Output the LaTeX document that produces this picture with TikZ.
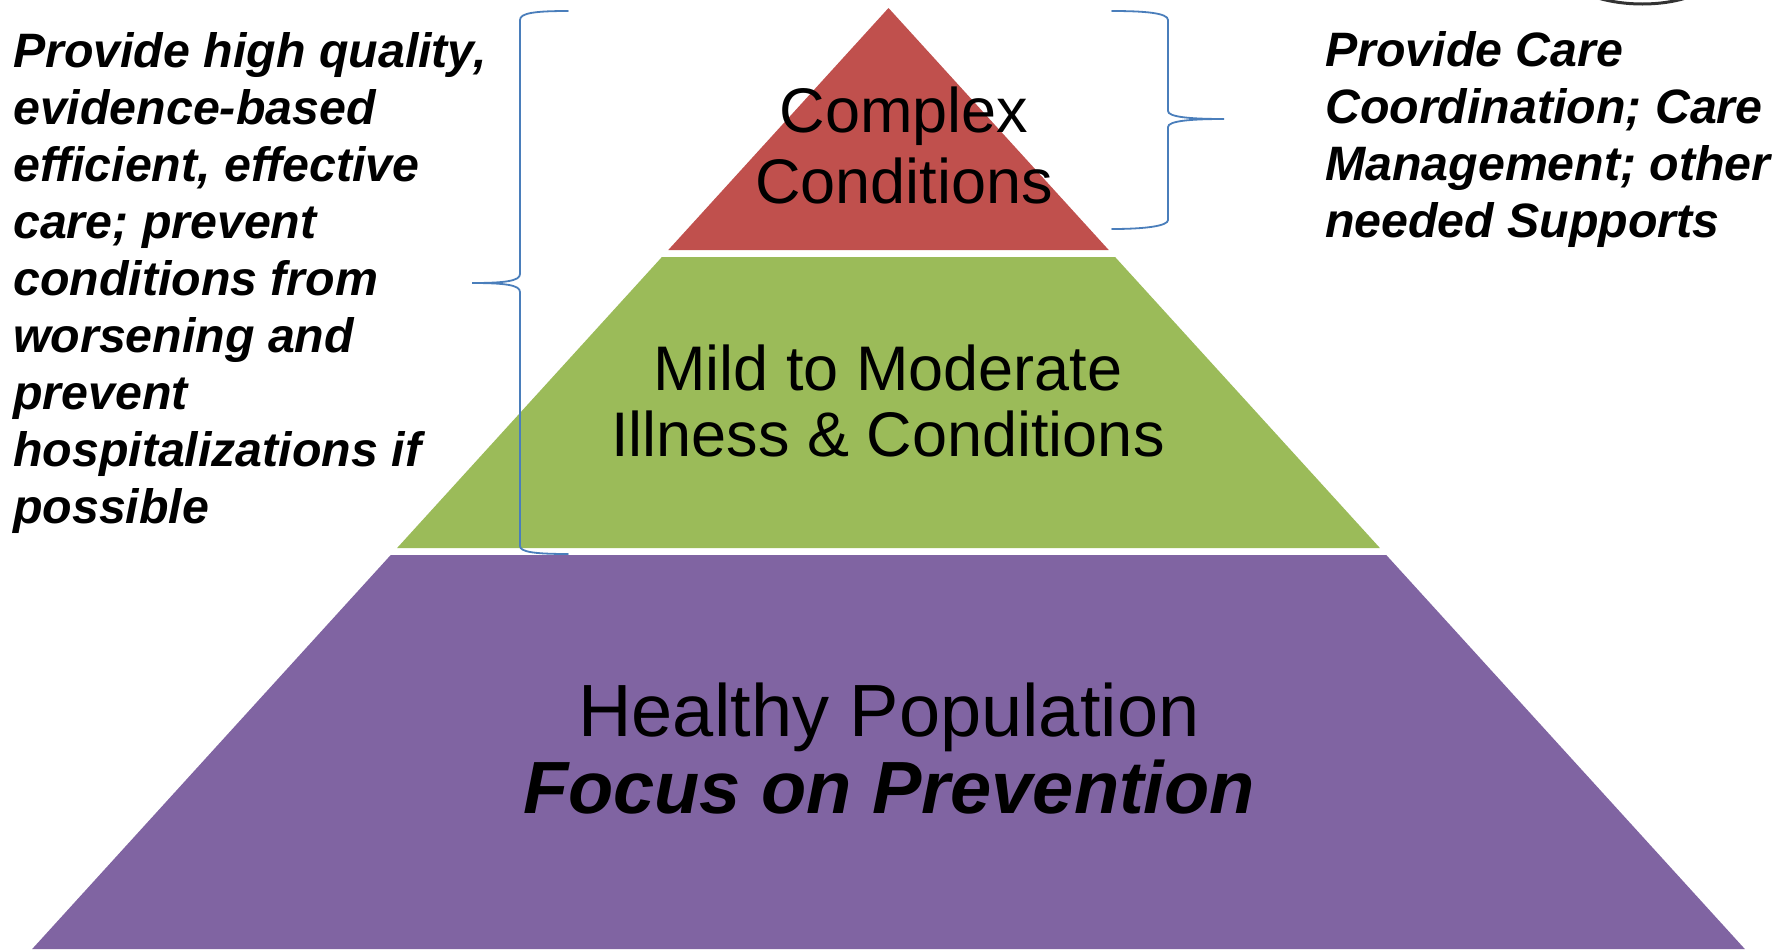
\documentclass[tikz,border=0pt]{standalone}
\usepackage{fontspec}
\setmainfont{Liberation Sans}
\definecolor{redc}{RGB}{192,80,77}
\definecolor{greenc}{RGB}{155,187,89}
\definecolor{purplec}{RGB}{128,100,162}
\definecolor{bracec}{RGB}{74,126,187}
\begin{document}
\begin{tikzpicture}[x=1pt,y=-1pt,
  brace/.style={draw=bracec, line width=1.8pt, line cap=round},
  side/.style={font=\fontsize{48.3}{57}\selectfont\bfseries\itshape, anchor=base west, align=left, inner sep=0pt},
  tier/.style={align=center, inner sep=0pt, anchor=base}]
\useasboundingbox (0,0) rectangle (1789,951);
\fill[white] (0,0) rectangle (1789,951);
% pyramid tiers
\fill[redc] (888.5,8) -- ({888.5+0.91*242},250) -- ({888.5-0.91*242},250) -- cycle;
\fill[greenc] ({888.5-0.91*249},257) -- ({888.5+0.91*249},257) -- ({888.5+0.91*540},548) -- ({888.5-0.91*540},548) -- cycle;
\fill[purplec] ({888.5-0.91*547},555) -- ({888.5+0.91*547},555) -- ({888.5+0.91*941},949) -- ({888.5-0.91*941},949) -- cycle;
% tier labels (anchor = baseline of the last line)
\node[tier, font=\fontsize{63}{71}\selectfont] (cc) at (904,203) {Complex\\Conditions};
\node[tier, font=\fontsize{63}{66}\selectfont] (mm) at (888,456) {Mild to Moderate\\Illness \& Conditions};
\node[tier, font=\fontsize{74}{77}\selectfont] (hp) at (889,813) {Healthy Population\\{\bfseries\itshape Focus on Prevention}};
% side texts
\node[side] (lt) at (13,523) {Provide high quality,\\evidence-based\\efficient, effective\\care; prevent\\conditions from\\worsening and\\prevent\\hospitalizations if\\possible};
\node[side, font=\fontsize{48.3}{56.7}\selectfont\bfseries\itshape] (rt) at (1325,237) {Provide Care\\Coordination; Care\\Management; other\\needed Supports};
% braces
\draw[brace] (568,11) .. controls (535,11) and (520,13) .. (520,20) -- (520,274)
  .. controls (520,281) and (505,283) .. (472,283)
  .. controls (505,283) and (520,285) .. (520,292) -- (520,546)
  .. controls (520,552) and (535,554) .. (568,554);
\draw[brace] (1112,11) .. controls (1145,11) and (1168,13) .. (1168,20) -- (1168,111)
  .. controls (1168,117) and (1190,119) .. (1224,119)
  .. controls (1190,119) and (1168,121) .. (1168,127) -- (1168,220)
  .. controls (1168,226) and (1145,229) .. (1112,229);
% partial logo edge at top right
\draw[line width=3pt, black!80] (1598,-2) .. controls (1625,6) and (1660,6) .. (1686,-2);
\end{tikzpicture}
\end{document}
